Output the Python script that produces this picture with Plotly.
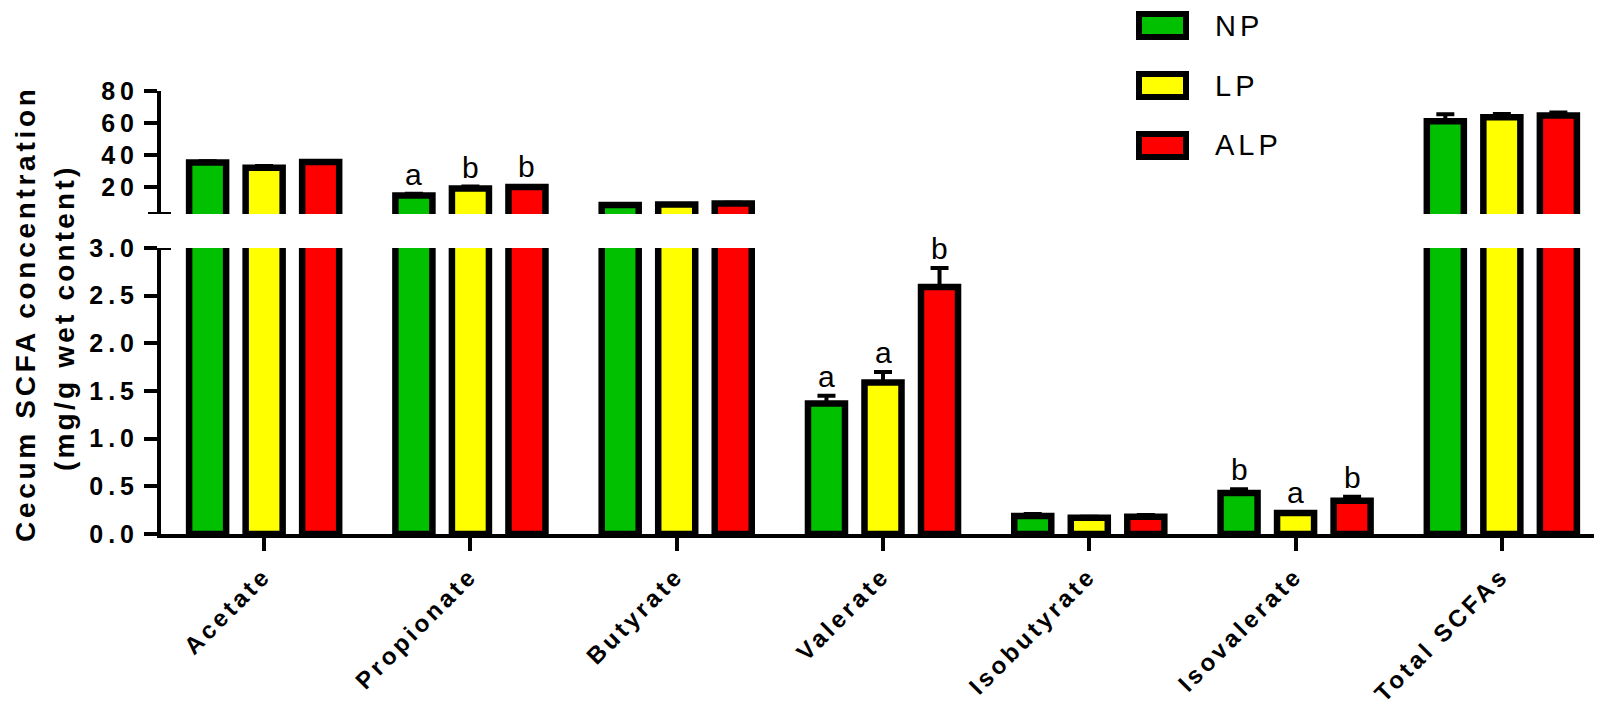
import plotly.graph_objects as go

# ---------------- data ----------------
categories = ["Acetate", "Propionate", "Butyrate", "Valerate",
              "Isobutyrate", "Isovalerate", "Total SCFAs"]
groups = ["NP", "LP", "ALP"]

np_mean = [35.2, 14.6, 8.6, 1.37, 0.19, 0.43, 61.1]
np_sem = [0.8, 1.0, 0.4, 0.08, 0.02, 0.04, 4.3]
lp_mean = [32.0, 19.0, 8.9, 1.59, 0.17, 0.22, 63.6]
lp_sem = [1.0, 1.2, 0.3, 0.11, 0.01, 0.01, 2.0]
alp_mean = [35.5, 19.9, 9.6, 2.59, 0.18, 0.35, 64.7]
alp_sem = [0.7, 0.6, 0.5, 0.20, 0.02, 0.04, 1.8]

np_sig = ["", "a", "", "a", "", "b", ""]
lp_sig = ["", "b", "", "a", "", "a", ""]
alp_sig = ["", "b", "", "b", "", "b", ""]

lower_ticks = [0.0, 0.5, 1.0, 1.5, 2.0, 2.5, 3.0]
upper_ticks = [20, 40, 60, 80]
break_value = 3.0
upper_max = 80

y_title_1 = "Cecum SCFA concentration"
y_title_2 = "(mg/g wet content)"

# ---------------- style ----------------
colors = ["#00C000", "#FFFF00", "#FF0000"]
FONT = "Liberation Sans, Arial, sans-serif"
W, H = 1602, 706
ML, MR, MT, MB = 153, 5, 83, 180
PW, PH = W - ML - MR, H - MT - MB
BARGAP = 0.178
BARGROUPGAP = 0.345


def px_x(px):
    return (px - ML) / PW


def px_y(py):
    return (H - MB - py) / PH


def spaced(text, px):
    return f'<span style="letter-spacing:{px}px">{text}</span>'


lower_dom = [0, px_y(240)]
upper_dom = [px_y(206), 1]

fig = go.Figure()

series = list(zip(groups, [np_mean, lp_mean, alp_mean],
                  [np_sem, lp_sem, alp_sem], colors))

for ax in ["y", "y2"]:
    for name, mean, sem, col in series:
        if ax == "y2":
            vals = [v if v > break_value else None for v in mean]
        else:
            vals = mean
        fig.add_trace(go.Bar(
            x=categories, y=vals, name=name, xaxis="x", yaxis=ax,
            marker=dict(color=col, line=dict(color="black", width=6.5)),
            error_y=dict(type="data", array=sem, arrayminus=[0] * len(sem),
                         symmetric=False, color="black", thickness=4, width=9),
            showlegend=False, hoverinfo="skip",
        ))

axis_common = dict(showline=True, linewidth=4, linecolor="black",
                   ticks="outside", ticklen=13, tickwidth=4, tickcolor="black",
                   showgrid=False, zeroline=False, automargin=False)

fig.update_layout(
    width=W, height=H,
    margin=dict(l=ML, r=MR, t=MT, b=MB),
    paper_bgcolor="white", plot_bgcolor="white",
    barmode="group", bargap=BARGAP, bargroupgap=BARGROUPGAP,
    showlegend=False,
    xaxis=dict(type="category", range=[-0.5, len(categories) - 0.5],
               tickvals=categories,
               ticktext=[spaced(c, 3.5) for c in categories],
               tickangle=-45, ticklabelstandoff=1,
               tickfont=dict(family=FONT, size=24, color="black", weight=700),
               anchor="y", **axis_common),
    yaxis=dict(domain=lower_dom, range=[0, break_value],
               tickvals=lower_ticks,
               ticktext=[spaced(f"{v:.1f}", 5) for v in lower_ticks],
               tickfont=dict(family=FONT, size=25, color="black", weight=700),
               anchor="x", **axis_common),
    yaxis2=dict(domain=upper_dom, range=[break_value, upper_max],
                tickvals=upper_ticks,
                ticktext=[spaced(str(v), 5) for v in upper_ticks],
                tickfont=dict(family=FONT, size=25, color="black", weight=700),
                anchor="x", **axis_common),
)

# axis break marks
for yr in ["y", "y2"]:
    fig.add_shape(type="line", xref="paper", yref=yr,
                  x0=px_x(140), x1=px_x(163), y0=break_value, y1=break_value,
                  line=dict(color="black", width=4))

# significance letters
slot = (1 - BARGAP) / len(groups)
for si, (sig, mean, sem) in enumerate(zip([np_sig, lp_sig, alp_sig],
                                          [np_mean, lp_mean, alp_mean],
                                          [np_sem, lp_sem, alp_sem])):
    for ci, lab in enumerate(sig):
        if not lab:
            continue
        top = mean[ci] + sem[ci]
        fig.add_annotation(
            x=ci + (si - 1) * slot, y=top, xref="x",
            yref="y2" if mean[ci] > break_value else "y",
            text=lab, showarrow=False, xanchor="center", yanchor="bottom",
            yshift=1, font=dict(family=FONT, size=30, color="black"))

# custom legend
LEG_X0, LEG_Y0, LEG_DY, BOX_W, BOX_H = 1131, 17.5, 60, 47, 23
for i, (name, col) in enumerate(zip(groups, colors)):
    cy = LEG_Y0 + i * LEG_DY
    fig.add_shape(type="rect", xref="paper", yref="paper",
                  x0=px_x(LEG_X0), x1=px_x(LEG_X0 + BOX_W),
                  y0=px_y(cy + BOX_H / 2), y1=px_y(cy - BOX_H / 2),
                  fillcolor=col, line=dict(color="black", width=6))
    fig.add_annotation(x=px_x(1205), y=px_y(cy), xref="paper", yref="paper",
                       text=spaced(name, 4), showarrow=False,
                       xanchor="left", yanchor="middle",
                       font=dict(family=FONT, size=29, color="black"))

# y-axis title (two lines)
fig.add_annotation(x=px_x(17), y=px_y(306), xref="paper", yref="paper",
                   text=spaced(y_title_1, 3.7), textangle=-90, showarrow=False,
                   xanchor="center", yanchor="middle",
                   font=dict(family=FONT, size=28, color="black", weight=700))
fig.add_annotation(x=px_x(56), y=px_y(310), xref="paper", yref="paper",
                   text=spaced(y_title_2, 3.2), textangle=-90, showarrow=False,
                   xanchor="center", yanchor="middle",
                   font=dict(family=FONT, size=28, color="black", weight=700))

fig.write_html("out.html")
